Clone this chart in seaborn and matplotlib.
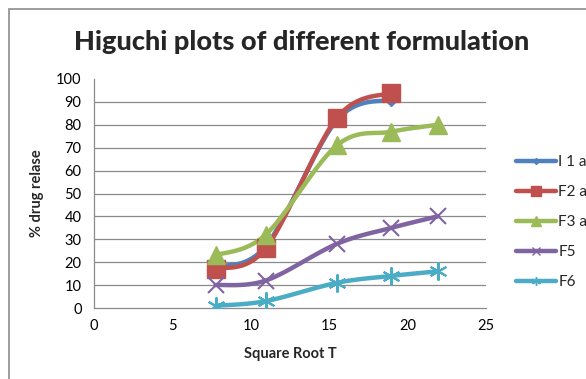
import numpy as np
import pandas as pd
import matplotlib
matplotlib.use("Agg")
import matplotlib.pyplot as plt
from matplotlib.lines import Line2D
from matplotlib.patches import Rectangle
import seaborn as sns

# Square root of time (min) at each sampling point
sqrt_t = [7.75, 10.95, 15.49, 18.97, 21.91]

# Cumulative % drug release per formulation
f1 = [18, 27, 82, 91]
f2 = [17, 26, 83, 94]
f3 = [23, 32, 71, 77, 80]
f5 = [10, 12, 28, 35, 40]
f6 = [1, 3, 11, 14, 16]

labels = ["I 1 a", "F2 a", "F3 a", "F5", "F6"]
colors = ["#4F81BD", "#C0504D", "#9BBB59", "#8064A2", "#4BACC6"]
markers = ["D", "s", "^", "x", (6, 2, 0)]
msizes = [6, 13, 13, 11, 13]

x_ticks = [0, 5, 10, 15, 20, 25]
y_ticks = [0, 10, 20, 30, 40, 50, 60, 70, 80, 90, 100]

sns.set_theme(style="white")
plt.rcParams["font.family"] = ["Lato", "DejaVu Sans"]


def smooth(xs, ys, n=30):
    """Catmull-Rom curve through the points (same as a spreadsheet's smoothed line)."""
    xs = np.asarray(xs, float)
    ys = np.asarray(ys, float)
    px = np.concatenate([[xs[0]], xs, [xs[-1]]])
    py = np.concatenate([[ys[0]], ys, [ys[-1]]])
    out_x, out_y = [], []
    for i in range(1, len(px) - 2):
        t = np.linspace(0, 1, n)
        p0x, p1x, p2x, p3x = px[i - 1:i + 3]
        p0y, p1y, p2y, p3y = py[i - 1:i + 3]
        c1x, c1y = p1x + (p2x - p0x) / 6, p1y + (p2y - p0y) / 6
        c2x, c2y = p2x - (p3x - p1x) / 6, p2y - (p3y - p1y) / 6
        bx = (1 - t) ** 3 * p1x + 3 * (1 - t) ** 2 * t * c1x + 3 * (1 - t) * t ** 2 * c2x + t ** 3 * p2x
        by = (1 - t) ** 3 * p1y + 3 * (1 - t) ** 2 * t * c1y + 3 * (1 - t) * t ** 2 * c2y + t ** 3 * p2y
        out_x.extend(bx)
        out_y.extend(by)
    return np.array(out_x), np.array(out_y)


fig = plt.figure(figsize=(5.86, 3.79), dpi=100)
ax = fig.add_axes([94 / 586, 1 - 308 / 379, (486 - 94) / 586, (308 - 79) / 379])

# chart border
fig.patches.append(Rectangle((9 / 586, -0.1), 1.2, 1 - 9 / 379 + 0.1, transform=fig.transFigure,
                             fill=False, edgecolor="#8c8c8c", linewidth=1.2))

series = [f1, f2, f3, f5, f6]
for vals, lab, col, mk, ms in zip(series, labels, colors, markers, msizes):
    xs = sqrt_t[:len(vals)]
    cx, cy = smooth(xs, vals)
    sns.lineplot(x=cx, y=cy, ax=ax, color=col, linewidth=3.2, sort=False, estimator=None, zorder=3)
    ax.plot(xs, vals, linestyle="none", marker=mk, markersize=ms, color=col,
            markeredgecolor=col, markeredgewidth=1.5 if mk in ("x",) or isinstance(mk, tuple) else 1,
            zorder=4)

ax.set_xlim(0, 25)
ax.set_ylim(0, 100)
ax.set_xticks(x_ticks)
ax.set_yticks(y_ticks)
ax.tick_params(axis="both", labelsize=10.5, length=0, pad=9, colors="black")
ax.tick_params(axis="x", pad=8)
for y in y_ticks[1:-1]:
    ax.axhline(y, color="#8a8a8a", linewidth=0.9, zorder=1)
for side in ["top", "right"]:
    ax.spines[side].set_visible(False)
for side in ["left", "bottom"]:
    ax.spines[side].set_color("#8a8a8a")
    ax.spines[side].set_linewidth(0.9)

ax.set_xlabel("Square Root T", fontsize=10.5, fontweight="bold", labelpad=10)
ax.set_ylabel("% drug relase", fontsize=10.5, fontweight="bold", labelpad=9)

fig.text(302 / 586, 1 - 42 / 379, "Higuchi plots of different formulation",
         ha="center", va="center", fontsize=19.5, fontweight="black")

handles = [Line2D([0], [0], color=c, linewidth=3.2, marker=m, markersize=s * 0.5,
                  markeredgecolor=c)
           for c, m, s in zip(colors, markers, msizes)]
leg = fig.legend(handles, labels, loc="center left", bbox_to_anchor=(510 / 586, 1 - 222 / 379),
                 frameon=False, fontsize=11, handlelength=2.6, handletextpad=0.15,
                 labelspacing=1.05, borderaxespad=0)

fig.savefig("out.png", dpi=100)
